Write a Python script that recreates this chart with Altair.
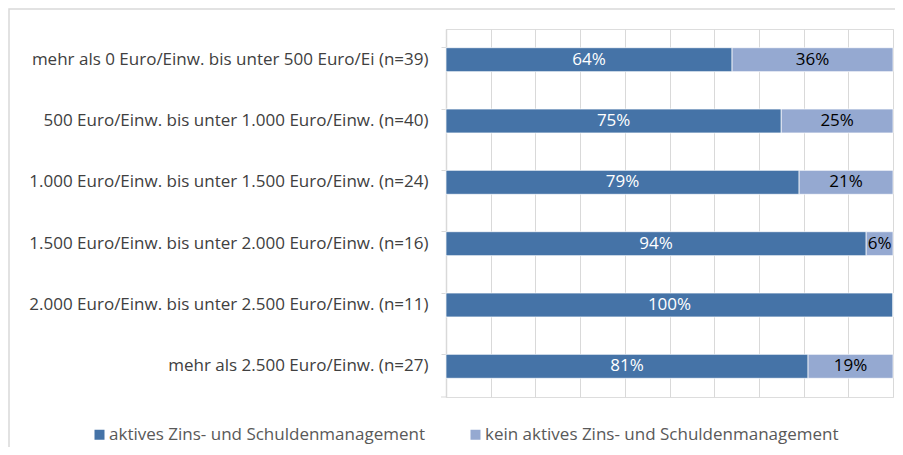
import altair as alt
import pandas as pd

categories = [
    "mehr als 0 Euro/Einw. bis unter 500 Euro/Ei (n=39)",
    "500 Euro/Einw. bis unter 1.000 Euro/Einw. (n=40)",
    "1.000 Euro/Einw. bis unter 1.500 Euro/Einw. (n=24)",
    "1.500 Euro/Einw. bis unter 2.000 Euro/Einw. (n=16)",
    "2.000 Euro/Einw. bis unter 2.500 Euro/Einw. (n=11)",
    "mehr als 2.500 Euro/Einw. (n=27)",
]
series = ["aktives Zins- und Schuldenmanagement", "kein aktives Zins- und Schuldenmanagement"]
aktiv = [64, 75, 79, 94, 100, 81]
kein = [36, 25, 21, 6, 0, 19]
colors = ["#4573A7", "#95A9D1"]
text_colors = ["white", "black"]

rows = []
for i, c in enumerate(categories):
    for j, (s, vals) in enumerate(zip(series, [aktiv, kein])):
        v = vals[i]
        rows.append({"cat": c, "series": s, "order": j, "value": v / 100.0,
                     "label": f"{v}%" if v > 0 else "", "tcol": text_colors[j]})
df = pd.DataFrame(rows)

FONT = "Open Sans"
FS = 17

y_enc = alt.Y("cat:N", sort=categories, title=None,
              scale=alt.Scale(paddingInner=0.61, paddingOuter=0.305),
              axis=alt.Axis(labelFontSize=FS, labelColor="#404040", labelFont=FONT,
                            labelPadding=13, tickSize=5, tickColor="#d9d9d9",
                            domainColor="#d9d9d9", domainWidth=1.5, bandPosition=0,
                            labelLimit=500))

bars = alt.Chart(df).mark_bar(stroke="white", strokeWidth=0.7).encode(
    x=alt.X("value:Q", stack="zero", title=None,
            scale=alt.Scale(domain=[0, 1], nice=False),
            axis=alt.Axis(labels=False, ticks=False, domain=False, grid=True,
                          gridColor="#d9d9d9", gridWidth=1,
                          values=[i / 10 for i in range(11)])),
    y=y_enc,
    color=alt.Color("series:N", sort=series,
                    scale=alt.Scale(domain=series, range=colors),
                    legend=alt.Legend(title=None, orient="none", direction="horizontal",
                                      legendX=-355, legendY=397,
                                      symbolType="square", symbolSize=100,
                                      symbolStrokeWidth=0, labelOffset=1,
                                      labelFontSize=FS, labelColor="#595959",
                                      labelFont=FONT, columnPadding=42,
                                      labelLimit=500)),
    order=alt.Order("order:Q"),
)

texts = alt.Chart(df).mark_text(fontSize=FS, font=FONT).transform_stack(
    stack="value", groupby=["cat"], as_=["v0", "v1"], sort=[alt.SortField("order")]
).transform_calculate(mid="(datum.v0 + datum.v1) / 2").encode(
    x=alt.X("mid:Q"),
    y=alt.Y("cat:N", sort=categories),
    text="label:N",
    color=alt.Color("tcol:N", scale=None),
)

frame = alt.Chart(pd.DataFrame({"a": [0]})).mark_rect(
    fill=None, stroke="#d9d9d9", strokeWidth=1.5).encode(
    x=alt.value(-437), x2=alt.value(470), y=alt.value(-20), y2=alt.value(470))

bottom_tick = alt.Chart(pd.DataFrame({"a": [0]})).mark_rule(
    color="#d9d9d9", strokeWidth=1).encode(
    x=alt.value(-5), x2=alt.value(0), y=alt.value(368))

chart = alt.layer(frame, bars, texts, bottom_tick).properties(
    width=447, height=368,
    autosize=alt.AutoSizeParams(type="none"),
    padding={"left": 438, "top": 21, "right": 2, "bottom": 50},
).configure_view(stroke=None).configure(font=FONT)

chart.save("out.html", embed_options={"renderer": "svg", "actions": False})
